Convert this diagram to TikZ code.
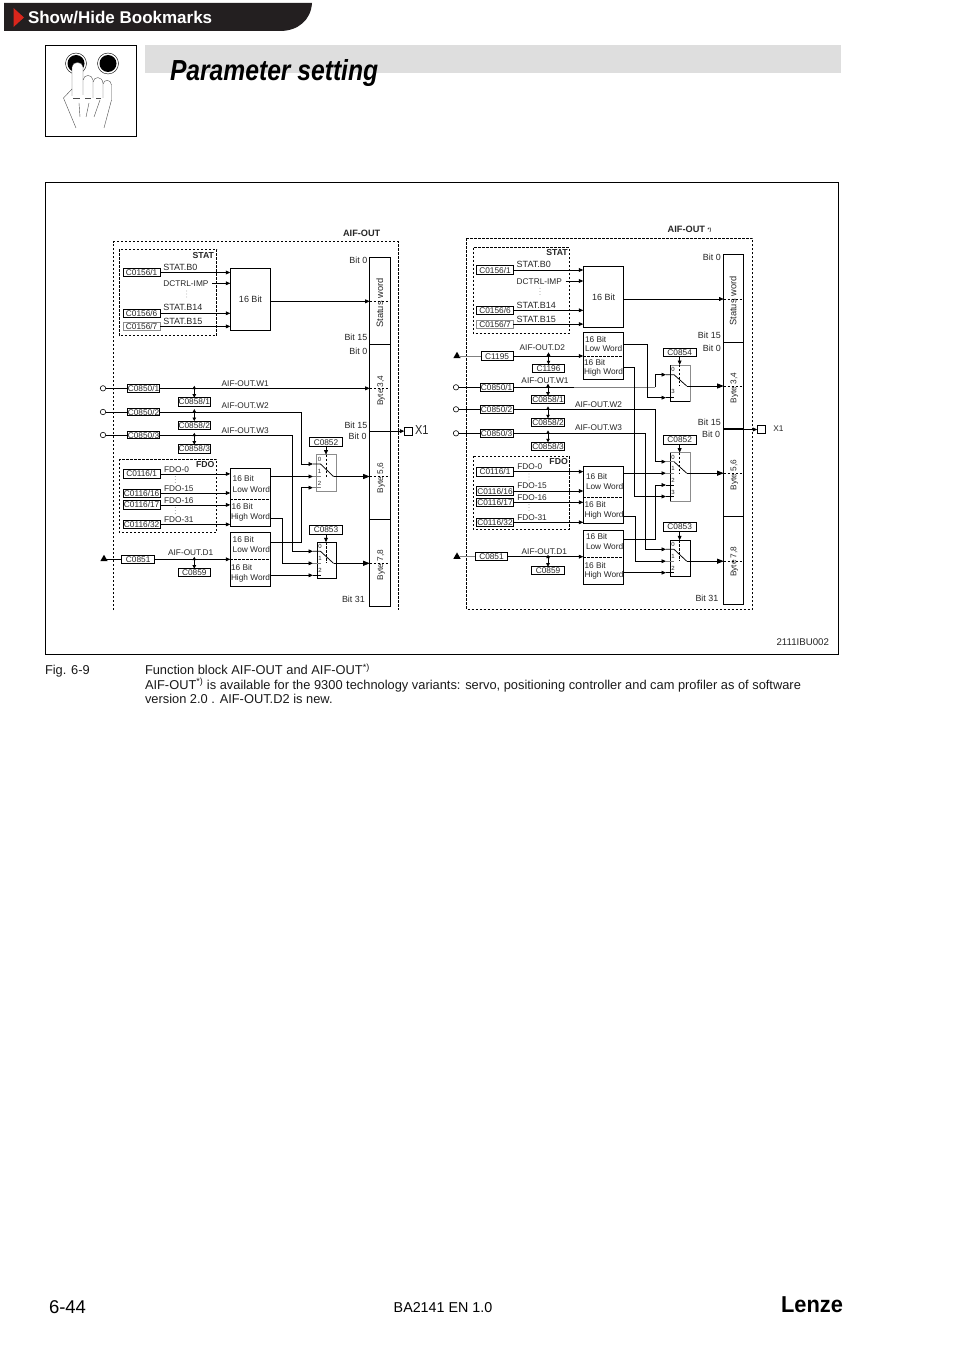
\documentclass[tikz,border=0pt]{standalone}
\usepackage{fontspec}
\setmainfont{Liberation Sans}
\usetikzlibrary{arrows.meta,shapes.geometric,calc}
\definecolor{banner}{HTML}{231F20}
\definecolor{bookred}{HTML}{D9261C}
\definecolor{titlebar}{HTML}{DEDEDE}
\newcommand{\pb}[6]{\node[pbox,minimum width={(#4-#2)*1pt},minimum height={(#5-#3)*1pt}] (#1) at ({(#2+#4)/2},{(#3+#5)/2}) {#6};}
\newcommand{\gb}[6]{\node[pbox,draw=black!45,minimum width={(#4-#2)*1pt},minimum height={(#5-#3)*1pt}] (#1) at ({(#2+#4)/2},{(#3+#5)/2}) {#6};}
\newcommand{\txl}[4]{\node[lbl,anchor=west] (#1) at (#2,#3) {#4};}
\newcommand{\txs}[4]{\node[lbl,anchor=west,font=\fontsize{9}{10}\selectfont] (#1) at (#2,#3) {#4};}
\newcommand{\txr}[4]{\node[lbl,anchor=east,font=\fontsize{8.9}{10}\selectfont] (#1) at (#2,#3) {#4};}
\newcommand{\txc}[4]{\node[lbl] (#1) at (#2,#3) {#4};}
\newcommand{\bol}[4]{\node[lbl,anchor=east,font=\fontsize{8.7}{9}\selectfont\bfseries] (#1) at (#2,#3) {#4};}
\newcommand{\rot}[4]{\node[lbl,rotate=90,font=\fontsize{#4}{9}\selectfont] at (#1,#2) {#3};}
\newcommand{\dotsv}[2]{\fill[black!60] (#1,#2-3) circle (.4) (#1,#2) circle (.4) (#1,#2+3) circle (.4);}
\tikzset{
  every node/.style={inner sep=0pt,outer sep=0pt},
  lbl/.style={font=\fontsize{8.3}{9}\selectfont,text=black!85,text height=6pt,text depth=0pt},
  pbox/.style={lbl,draw,line width=.75pt,align=center},
  ln/.style={line width=.75pt},
  arr/.style={ln,-{Stealth[length=4.5pt,width=3.8pt,inset=0pt]}},
  bigarr/.style={ln,-{Stealth[length=6.5pt,width=5pt,inset=0pt]}},
  both/.style={ln,{Stealth[length=3.5pt,width=3.5pt,inset=0pt]}-{Stealth[length=3.5pt,width=3.5pt,inset=0pt]}},
  dsh/.style={line width=.75pt,dash pattern=on 2.4pt off 1.6pt},
  grayln/.style={line width=.9pt,black!50},
  ring/.style={circle,draw,line width=.6pt,minimum size=5.4pt},
  tri/.style={regular polygon,regular polygon sides=3,fill=black,minimum size=8.5pt},
  sw/.style={font=\fontsize{6}{7}\selectfont,text=black!85,text height=4.3pt,text depth=0pt},
  captxt/.style={anchor=base west,font=\fontsize{12.85}{14}\selectfont,text=black!90},
}
\begin{document}
\begin{tikzpicture}[x=1pt,y=-1pt]
\useasboundingbox (0,0) rectangle (954,1351);
% header
\fill[banner] (4,3) -- (312,3) .. controls (311,20) and (298,31) .. (280,31) -- (4,31) -- cycle;
\fill[bookred] (13.5,8) -- (24,17.5) -- (13.5,27) -- cycle;
\node[anchor=west,text=white,font=\fontsize{17}{19}\selectfont\bfseries] (hdr) at (28,17.3) {Show/Hide Bookmarks};
\fill[titlebar] (145,45) rectangle (841,73);
\node[anchor=base west,xscale=.85,font=\fontsize{29}{31}\selectfont\bfseries\itshape] (title) at (170,81) {Parameter setting};
% hand icon
\draw[line width=.9pt] (45.5,45.5) rectangle (136.5,136.5);
\draw[line width=.4pt] (76,63.5) circle (10.5) (108,63.5) circle (10.5);
\fill (76,63.5) circle (8.5) (108,63.5) circle (8.5);
\fill[white] (72,96) -- (72,67) .. controls (72,61) and (83,61) .. (83,67) -- (83,96) -- cycle;
\draw[line width=.4pt,black!70] (72,96) -- (72,67) .. controls (72,61) and (83,61) .. (83,67) -- (83,95);
\draw[line width=.4pt,black!70] (83,80) .. controls (84,74) and (92,74) .. (93,80) -- (93,98);
\draw[line width=.4pt,black!70] (93,82) .. controls (94,76) and (102,76) .. (103,83) -- (103,98);
\draw[line width=.4pt,black!70] (103,84) .. controls (104,79) and (111,79) .. (111.5,85) -- (111.5,100) -- (104,128);
\draw[line width=.4pt,black!70] (72,89) -- (63.5,98) -- (76,128);
\draw[line width=.4pt,black!70] (79,103) -- (80,117) (89,103) -- (86,117) (100,100) -- (94,117);
\draw[line width=.4pt,black!70] (73,98) -- (80,98) (85,98) -- (91,98) (96,98) -- (101,98);
% frame
\draw[line width=.75pt] (45.5,182.5) rectangle (838.5,654.5);
\node[lbl,anchor=east,font=\fontsize{9.7}{11}\selectfont] (fign) at (829,642) {2111IBU002};

%%%%%%%%%% LEFT DIAGRAM
\draw[dsh] (113.3,610) -- (113.3,241.7) -- (398.3,241.7) -- (398.3,610);
\draw[dsh] (119.3,249.3) rectangle (216.7,335.7);
\draw[dsh] (119.3,459) rectangle (216.7,532.3);
\node[lbl,font=\fontsize{9.2}{10}\selectfont\bfseries] (Laif) at (361.7,233.7) {AIF-OUT};
\bol{Lstat}{214}{255}{STAT}
\bol{Lfdo}{214.5}{464}{FDO}
% bar
\pb{LB1}{369.7}{257.3}{390.7}{344.3}{}
\pb{LB2}{369.7}{344.3}{390.7}{431}{}
\pb{LB3}{369.7}{431}{390.7}{519.3}{}
\pb{LB4}{369.7}{519.3}{390.7}{606}{}
\rot{380}{303}{Status word}{9.3}
\rot{380}{390.7}{Byte 3,4}{8.3}
\rot{380}{478}{Byte 5,6}{8.3}
\rot{380}{565}{Byte 7,8}{8.3}
\txr{Lb1}{367.3}{260}{Bit 0}
\txr{Lb2}{367.3}{337}{Bit 15}
\txr{Lb3}{367.3}{351}{Bit 0}
\txr{Lb4}{367.3}{425}{Bit 15}
\txr{Lb5}{366.5}{436.7}{Bit 0}
\txr{Lb6}{364.8}{599.7}{Bit 31}
% blocks
\pb{LA}{230.3}{268.3}{270.7}{330.7}{\fontsize{9}{10}\selectfont 16 Bit}
\pb{LF}{230.3}{468.3}{270.7}{526.7}{}
\pb{LG}{230.3}{532.3}{270.7}{586.7}{}
\draw[dsh] (LF.west |- 0,499.3) -- (LF.east |- 0,499.3);
\draw[dsh] (LG.west |- 0,559.3) -- (LG.east |- 0,559.3);
\txl{LF1}{232.7}{478.7}{16 Bit}
\txl{LF2}{232.7}{489}{Low Word}
\txl{LF3}{231.7}{506.7}{16 Bit}
\txl{LF4}{231}{516}{High Word}
\txl{LG1}{232.7}{539.7}{16 Bit}
\txl{LG2}{232.7}{549}{Low Word}
\txl{LG3}{231}{567}{16 Bit}
\txl{LG4}{231}{577}{High Word}
% STAT inputs
\pb{Ls1}{123.3}{268.3}{160}{276.7}{C0156/1}
\pb{Ls6}{123.3}{309}{160}{317.6}{C0156/6}
\gb{Ls7}{123.3}{322.2}{160}{330.6}{C0156/7}
\txs{Lt1}{163.3}{267}{STAT.B0}
\txl{Lt2}{163.3}{283.3}{DCTRL-IMP}
\txs{Lt3}{163.3}{307}{STAT.B14}
\txs{Lt4}{163.3}{321}{STAT.B15}
\dotsv{186.7}{294}
\draw[arr] (Ls1.east) -- (Ls1.east -| LA.west);
\draw[arr] (Lt2.east -| 212,0) -- (Lt2.east -| LA.west);
\draw[arr] (Ls6.east) -- (Ls6.east -| LA.west);
\draw[arr] (Ls7.east) -- (Ls7.east -| LA.west);
\coordinate (Ly0) at (0,301.3);
\draw[arr] (LA.east |- Ly0) -- (LB1.west |- Ly0);
% FDO inputs
\pb{Lf1}{123.3}{469.5}{160}{478.3}{C0116/1}
\pb{Lf16}{123.3}{489}{160}{497}{C0116/16}
\pb{Lf17}{123.3}{500.6}{160}{509.2}{C0116/17}
\pb{Lf32}{123.3}{520.2}{160}{528.6}{C0116/32}
\txl{Lf1t}{164}{469}{FDO-0}
\txl{Lf2t}{164}{488}{FDO-15}
\txl{Lf3t}{164}{500}{FDO-16}
\txl{Lf4t}{164}{519}{FDO-31}
\dotsv{175.3}{479.5}
\dotsv{175.3}{510.5}
\draw[arr] (Lf1.east) -- (Lf1.east -| LF.west);
\draw[arr] (Lf16.east) -- (Lf16.east -| LF.west);
\draw[arr] (Lf17.east) -- (Lf17.east -| LF.west);
\draw[arr] (Lf32.east) -- (Lf32.east -| LF.west);
% W rows
\node[ring] (Lr1) at (103,388.3) {};
\node[ring] (Lr2) at (103,412) {};
\node[ring] (Lr3) at (103,435) {};
\pb{Lc1}{127.7}{384.5}{159.3}{392.1}{C0850/1}
\pb{Lc2}{127.7}{408.2}{159.3}{415.8}{C0850/2}
\pb{Lc3}{127.7}{431.2}{159.3}{438.8}{C0850/3}
\pb{Ld1}{178.3}{397.7}{210.3}{406}{C0858/1}
\pb{Ld2}{178.3}{421}{210.3}{429.7}{C0858/2}
\pb{Ld3}{178.3}{444.7}{210.3}{453}{C0858/3}
\txl{Lw1}{221.7}{383.3}{AIF-OUT.W1}
\txl{Lw2}{221.7}{405.7}{AIF-OUT.W2}
\txl{Lw3}{221.7}{430}{AIF-OUT.W3}
\draw[ln] (Lr1.east) -- (Lc1.west);
\draw[ln] (Lr2.east) -- (Lc2.west);
\draw[ln] (Lr3.east) -- (Lc3.west);
\draw[arr] (Lc1.east) -- (Lc1.east -| LB2.west);
\draw[both] ($(Ld1.north)+(0,-12)$) -- (Ld1.north);
\draw[both] ($(Ld2.north)+(0,-12)$) -- (Ld2.north);
\draw[both] ($(Ld3.north)+(0,-12)$) -- (Ld3.north);
% D1 row
\node[tri] (Ltr) at (104,559) {};
\pb{Lc51}{121.7}{555.3}{154.7}{563.3}{C0851}
\pb{Lc59}{178.3}{568.7}{210.3}{576.7}{C0859}
\txc{Ld1t}{190.7}{552.7}{AIF-OUT.D1}
\draw[ln] (Ltr.east |- Lc51.west) -- (Lc51.west);
\draw[arr] (Lc51.east) -- (Lc51.east -| LG.west);
\draw[both] ($(Lc59.north)+(0,-12)$) -- (Lc59.north);
% switches
\gb{LS1}{316.7}{454.7}{336.3}{491.3}{}
\pb{LS2}{317.3}{542.3}{336.3}{578.3}{}
\pb{Lc52}{309.3}{437.7}{342.7}{446.3}{C0852}
\pb{Lc53}{309.3}{525.5}{342.7}{534.3}{C0853}
\node[sw] (LS1n0) at (319.5,459.7) {0};
\node[sw] (LS1n1) at (319.5,471.5) {1};
\node[sw] (LS1n2) at (319.5,483.5) {2};
\node[sw] (LS2n0) at (320,546.3) {0};
\node[sw] (LS2n1) at (320,558.3) {1};
\node[sw] (LS2n2) at (320,570.3) {2};
\coordinate (LS1t0) at (313,464);
\coordinate (LS1t1) at (313,476.5);
\coordinate (LS1t2) at (313,487.7);
\coordinate (LS2t0) at (313,551.3);
\coordinate (LS2t1) at (313,563.3);
\coordinate (LS2t2) at (313,575.3);
\coordinate (LS1a) at (320.5,464);
\coordinate (LS1o) at (333.5,476.5);
\coordinate (LS2a) at (320.5,551.3);
\coordinate (LS2o) at (333.5,563.3);
\coordinate (Lv1) at (301,0);
\coordinate (Lv2) at (292.7,0);
\coordinate (Lv3) at (282.3,0);
\coordinate (LFh) at (270.7,518.3);
\coordinate (LGl) at (270.7,542.3);
\draw[arr] (Lc2.east) -| (Lv1 |- LS1t0) -- (LS1t0);
\draw[arr] (Lc3.east) -| (Lv2 |- LS2t0) -- (LS2t0);
\draw[arr] (LF.east |- LS1t1) -- (LS1t1);
\draw[arr] (LGl) -| (Lv1 |- LS1t2) -- (LS1t2);
\draw[arr] (LFh) -| (Lv3 |- LS2t1) -- (LS2t1);
\draw[arr] (LG.east |- LS2t2) -- (LS2t2);
\draw[ln] (LS1t0) -- (LS1a) -- (LS1o);
\draw[grayln] (LS1t1) -- (LS1t1 -| LS1a);
\draw[grayln] (LS1t2) -- (LS1t2 -| LS1a);
\draw[ln] (LS2t0) -- (LS2a) -- (LS2o);
\draw[grayln] (LS2t1) -- (LS2t1 -| LS2a);
\draw[ln] (LS2t2) -- (LS2t2 -| LS2a);
\draw[bigarr] (LS1o) -- (LS1o -| LB3.west);
\draw[bigarr] (LS2o) -- (LS2o -| LB4.west);
\draw[arr] (Lc52.south) -- (Lc52.south |- LS1.north);
\draw[arr] (Lc53.south) -- (Lc53.south |- LS2.north);
\draw[dsh] (Lc52.south |- LS1.north) -- (Lc52.south |- LS1o);
\draw[dsh] (Lc53.south |- LS2.north) -- (Lc53.south |- LS2o);
\draw[dsh,line width=.6pt] (LB1.west |- Ly0) -- (LB1.east |- Ly0);
\draw[dsh,line width=.6pt] (LB2.west |- Lc1) -- (LB2.east |- Lc1);
\draw[dsh,line width=.6pt] (LB3.west |- LS1o) -- (LB3.east |- LS1o);
\draw[dsh,line width=.6pt] (LB4.west |- LS2o) -- (LB4.east |- LS2o);
% X1
\pb{LX}{404.3}{427}{412.7}{435.3}{}
\node[lbl,anchor=west,xscale=.85,font=\fontsize{13}{14}\selectfont,text height=9.3pt] (LXt) at (415,430) {X1};
\draw[arr] (LX.west -| LB3.east) -- (LX.west);

%%%%%%%%%% RIGHT DIAGRAM
\draw[dsh] (466.7,238.3) rectangle (752.7,609.3);
\draw[dsh] (473.3,247.7) rectangle (569.3,333.3);
\draw[dsh] (473.3,456) rectangle (569.3,529.3);
\node[lbl,anchor=west,font=\fontsize{9.2}{10}\selectfont\bfseries] (Raif) at (667.7,229.7) {AIF-OUT \raisebox{1.5pt}{\fontsize{5}{5}\selectfont *)}};
\bol{Rstat}{567.8}{252.3}{STAT}
\bol{Rfdo}{567.8}{461.7}{FDO}
% bar
\pb{RB1}{723.7}{254.3}{743.3}{342.3}{}
\pb{RB2}{723.7}{342.3}{743.3}{429}{}
\pb{RB3}{723.7}{429}{743.3}{516.7}{}
\pb{RB4}{723.7}{516.7}{743.3}{604.3}{}
\draw[line width=1.4pt] (RB3.north west) -- (RB3.north east);
\draw[line width=1.4pt] (RB4.north west) -- (RB4.north east);
\rot{733.3}{301}{Status word}{9.3}
\rot{733.3}{388}{Byte 3,4}{8.3}
\rot{733.3}{475}{Byte 5,6}{8.3}
\rot{733.3}{561.7}{Byte 7,8}{8.3}
\txr{Rb1}{720.7}{257.7}{Bit 0}
\txr{Rb2}{720.7}{335.7}{Bit 15}
\txr{Rb3}{720.7}{348.7}{Bit 0}
\txr{Rb4}{720.7}{422.3}{Bit 15}
\txr{Rb5}{720}{434.3}{Bit 0}
\txr{Rb6}{718.3}{598.7}{Bit 31}
% blocks
\pb{RA}{583.3}{266.7}{623.7}{327.3}{\fontsize{9}{10}\selectfont 16 Bit}
\pb{RD}{583.3}{332.3}{623.7}{379.3}{}
\pb{RF}{583.3}{466.7}{623.7}{523.3}{}
\pb{RG}{583.3}{530.3}{623.7}{584.3}{}
\draw[dsh] (RD.west |- 0,356) -- (RD.east |- 0,356);
\draw[dsh] (RF.west |- 0,497.7) -- (RF.east |- 0,497.7);
\draw[dsh] (RG.west |- 0,557) -- (RG.east |- 0,557);
\txl{RD1}{585}{339}{16 Bit}
\txl{RD2}{585}{348}{Low Word}
\txl{RD3}{584}{362.3}{16 Bit}
\txl{RD4}{584}{371.7}{High Word}
\txl{RF1}{586}{476.7}{16 Bit}
\txl{RF2}{586}{486}{Low Word}
\txl{RF3}{584.5}{504}{16 Bit}
\txl{RF4}{584.5}{514}{High Word}
\txl{RG1}{586}{536.7}{16 Bit}
\txl{RG2}{586}{546}{Low Word}
\txl{RG3}{584.5}{565}{16 Bit}
\txl{RG4}{584.5}{574.3}{High Word}
% STAT inputs
\pb{Rs1}{476.7}{265.7}{513.3}{274.3}{C0156/1}
\pb{Rs6}{476.7}{306}{513.3}{314.6}{C0156/6}
\gb{Rs7}{476.7}{320}{513.3}{328.2}{C0156/7}
\txs{Rt1}{516.7}{264}{STAT.B0}
\txl{Rt2}{516.7}{281}{DCTRL-IMP}
\txs{Rt3}{516.7}{305}{STAT.B14}
\txs{Rt4}{516.7}{319.3}{STAT.B15}
\dotsv{540}{291.5}
\draw[arr] (Rs1.east) -- (Rs1.east -| RA.west);
\draw[arr] (Rt2.east -| 565.7,0) -- (Rt2.east -| RA.west);
\draw[arr] (Rs6.east) -- (Rs6.east -| RA.west);
\draw[arr] (Rs7.east) -- (Rs7.east -| RA.west);
\coordinate (Ry0) at (0,299);
\draw[arr] (RA.east |- Ry0) -- (RB1.west |- Ry0);
% D2
\node[tri] (Rtr2) at (457,356) {};
\pb{Rc95}{481}{351.8}{513.3}{360.2}{C1195}
\pb{Rc96}{532.7}{364.3}{564.3}{372.3}{C1196}
\txc{Rd2t}{542.3}{347.7}{AIF-OUT.D2}
\draw[grayln] (Rtr2.east |- Rc95.west) -- (Rc95.west);
\draw[arr] (Rc95.east) -- (Rc95.east -| RD.west);
\draw[both] ($(Rc96.north)+(0,-12)$) -- (Rc96.north);
% W rows
\node[ring] (Rr1) at (456,387.3) {};
\node[ring] (Rr2) at (456,409.3) {};
\node[ring] (Rr3) at (456,433.3) {};
\pb{Rc1}{480.3}{383.5}{513}{391.1}{C0850/1}
\pb{Rc2}{480.3}{405.5}{513}{413.1}{C0850/2}
\pb{Rc3}{480.3}{429.5}{513}{437.1}{C0850/3}
\pb{Rd1}{531.7}{395.7}{564.3}{403.7}{C0858/1}
\pb{Rd2}{531.7}{418.3}{564.3}{426.3}{C0858/2}
\pb{Rd3}{531.7}{442.3}{564.3}{450.3}{C0858/3}
\txc{Rw1}{545}{380.7}{AIF-OUT.W1}
\txl{Rw2}{575}{404}{AIF-OUT.W2}
\txl{Rw3}{575}{427.7}{AIF-OUT.W3}
\draw[ln] (Rr1.east) -- (Rc1.west);
\draw[ln] (Rr2.east) -- (Rc2.west);
\draw[ln] (Rr3.east) -- (Rc3.west);
\draw[both] ($(Rd1.north)+(0,-12)$) -- (Rd1.north);
\draw[both] ($(Rd2.north)+(0,-12)$) -- (Rd2.north);
\draw[both] ($(Rd3.north)+(0,-12)$) -- (Rd3.north);
% FDO inputs
\pb{Rf1}{476.7}{467.3}{513.3}{476}{C0116/1}
\pb{Rf16}{476.7}{486.8}{513.3}{495.2}{C0116/16}
\pb{Rf17}{476.7}{498.1}{513.3}{506.5}{C0116/17}
\pb{Rf32}{476.7}{518.1}{513.3}{526.5}{C0116/32}
\txl{Rf1t}{517.3}{466}{FDO-0}
\txl{Rf2t}{517.3}{485.7}{FDO-15}
\txl{Rf3t}{517.3}{497}{FDO-16}
\txl{Rf4t}{517.3}{517}{FDO-31}
\dotsv{529}{477}
\dotsv{529}{507.5}
\draw[arr] (Rf1.east) -- (Rf1.east -| RF.west);
\draw[arr] (Rf16.east) -- (Rf16.east -| RF.west);
\draw[arr] (Rf17.east) -- (Rf17.east -| RF.west);
\draw[arr] (Rf32.east) -- (Rf32.east -| RF.west);
% D1
\node[tri] (Rtr) at (457,556.7) {};
\pb{Rc51}{475.3}{552.7}{507.7}{560.7}{C0851}
\pb{Rc59}{531.7}{566.7}{564.3}{574.5}{C0859}
\txc{Rd1t}{544.3}{551}{AIF-OUT.D1}
\draw[grayln] (Rtr.east |- Rc51.west) -- (Rc51.west);
\draw[arr] (Rc51.east) -- (Rc51.east -| RG.west);
\draw[both] ($(Rc59.north)+(0,-12)$) -- (Rc59.north);
% switches
\gb{RS0}{670.3}{365}{690}{401}{}
\gb{RS1}{670.3}{452.7}{690}{501}{}
\pb{RS2}{670.3}{540.3}{690}{576.3}{}
\draw[ln] (RS0.north west) -- (RS0.south west) -- (RS0.south east);
\draw[ln] (RS1.north west) -- (RS1.south west);
\pb{Rc54}{663.3}{348.3}{696}{356.3}{C0854}
\pb{Rc52}{663.3}{435.5}{696}{444}{C0852}
\pb{Rc53}{663.3}{522.7}{696}{531}{C0853}
\node[sw] (RS0n0) at (673,369.3) {0};
\node[sw] (RS0n3) at (673,391.7) {3};
\node[sw] (RS1n0) at (673,457.5) {0};
\node[sw] (RS1n1) at (673,468.7) {1};
\node[sw] (RS1n2) at (673,480.5) {2};
\node[sw] (RS1n3) at (673,492) {3};
\node[sw] (RS2n0) at (673,544.5) {0};
\node[sw] (RS2n1) at (673,556.5) {1};
\node[sw] (RS2n2) at (673,568) {2};
\coordinate (RS0t0) at (666,374.7);
\coordinate (RS0t3) at (666,397.7);
\coordinate (RS1t0) at (666,461.7);
\coordinate (RS1t1) at (666,473.2);
\coordinate (RS1t2) at (666,485);
\coordinate (RS1t3) at (666,496.5);
\coordinate (RS2t0) at (666,549.3);
\coordinate (RS2t1) at (666,561.2);
\coordinate (RS2t2) at (666,572.7);
\coordinate (RS0a) at (674,374.7);
\coordinate (RS0o) at (686.7,386);
\coordinate (RS1a) at (674,461.7);
\coordinate (RS1o) at (686.7,473.2);
\coordinate (RS2a) at (674,549.3);
\coordinate (RS2o) at (686.7,561.2);
\coordinate (Rv1) at (655,0);
\coordinate (Rv2) at (645.7,0);
\coordinate (Rv3) at (647.3,0);
\coordinate (Rv4) at (634.7,0);
\coordinate (Rv5) at (635.7,0);
\coordinate (RDl) at (623.7,344.3);
\coordinate (RDh) at (623.7,367.7);
\coordinate (RFh) at (623.7,516);
\coordinate (RGl) at (623.7,539);
% routes
\draw[ln] (Rc1.east) -- (Rc1.east -| Rd1.north) -- +(26,0);
\draw[grayln] ($(Rc1.east -| Rd1.north)+(26,0)$) -- (Rc1.east -| Rv1);
\draw[arr] (Rc1.east -| Rv1) -- (Rv1 |- RS0t0) -- (RS0t0);
\draw[arr] (Rc2.east) -| (Rv1 |- RS1t0) -- (RS1t0);
\draw[arr] (Rc3.east) -| (Rv2 |- RS2t0) -- (RS2t0);
\draw[arr] (RDl) -| (Rv3 |- RS0t3) -- (RS0t3);
\draw[arr] (RDh) -| (Rv4 |- RS1t3) -- (RS1t3);
\draw[arr] (RF.east |- RS1t1) -- (RS1t1);
\draw[arr] (RGl) -| (Rv1 |- RS1t2) -- (RS1t2);
\draw[arr] (RFh) -| (Rv5 |- RS2t1) -- (RS2t1);
\draw[arr] (RG.east |- RS2t2) -- (RS2t2);
\draw[ln] (RS0t0) -- (RS0a) -- (RS0o);
\draw[ln] (RS0t3) -- (RS0t3 -| RS0a);
\draw[ln] (RS1a) -- (RS1o);
\draw[grayln] (RS1t0) -- (RS1a);
\draw[grayln] (RS1t1) -- (RS1t1 -| RS1a);
\draw[ln] (RS1t2) -- (RS1t2 -| RS1a);
\draw[ln] (RS1t3) -- (RS1t3 -| RS1a);
\draw[ln] (RS2t0) -- (RS2a) -- (RS2o);
\draw[grayln] (RS2t1) -- (RS2t1 -| RS2a);
\draw[ln] (RS2t2) -- (RS2t2 -| RS2a);
\draw[bigarr] (RS0o) -- (RS0o -| RB2.west);
\draw[bigarr] (RS1o) -- (RS1o -| RB3.west);
\draw[bigarr] (RS2o) -- (RS2o -| RB4.west);
\draw[arr] (Rc54.south) -- (Rc54.south |- RS0.north);
\draw[arr] (Rc52.south) -- (Rc52.south |- RS1.north);
\draw[arr] (Rc53.south) -- (Rc53.south |- RS2.north);
\draw[dsh] (Rc54.south |- RS0.north) -- (Rc54.south |- RS0o);
\draw[dsh] (Rc52.south |- RS1.north) -- (Rc52.south |- RS1o);
\draw[dsh] (Rc53.south |- RS2.north) -- (Rc53.south |- RS2o);
\draw[dsh,line width=.6pt] (RB1.west |- Ry0) -- (RB1.east |- Ry0);
\draw[dsh,line width=.6pt] (RB2.west |- RS0o) -- (RB2.east |- RS0o);
\draw[dsh,line width=.6pt] (RB3.west |- RS1o) -- (RB3.east |- RS1o);
\draw[dsh,line width=.6pt] (RB4.west |- RS2o) -- (RB4.east |- RS2o);
% X1
\pb{RX}{757.3}{425.3}{765.7}{433.7}{}
\txl{RXt}{773.3}{428.7}{X1}
\draw[arr] (RX.west -| RB3.east) -- (RX.west);

%%%%%%%%%% caption and footer
\node[captxt] (c0) at (45,674) {Fig. 6-9};
\node[captxt] (c1) at (145,674.5) {Function block AIF-OUT and AIF-OUT\textsuperscript{*)}};
\node[captxt] (c2) at (145,689) {AIF-OUT\textsuperscript{*)} is available for the 9300 technology variants: servo, positioning controller and cam profiler as of software};
\node[captxt] (c3) at (145,703.5) {version 2.0 . AIF-OUT.D2 is new.};
\node[anchor=base west,font=\fontsize{18.5}{20}\selectfont] (pg) at (49,1313) {6-44};
\node[anchor=base,font=\fontsize{14.3}{16}\selectfont] (ba) at (443,1312.5) {BA2141 EN 1.0};
\node[anchor=base east,xscale=.95,font=\fontsize{23}{25}\selectfont\bfseries] (lz) at (843,1312) {Lenze};
\end{tikzpicture}
\end{document}
